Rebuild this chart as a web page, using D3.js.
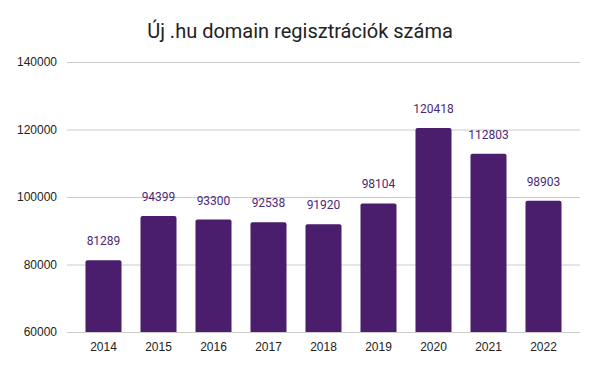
<!DOCTYPE html>
<html>
<head>
<meta charset="utf-8">
<script src="https://cdn.jsdelivr.net/npm/d3@7"></script>
<style>
  body { margin: 0; background: #fff; }
  svg { font-family: Roboto, sans-serif; }
</style>
</head>
<body>
<div id="chart"></div>
<script>
var years = ['2014', '2015', '2016', '2017', '2018', '2019', '2020', '2021', '2022'];
var registrations = [81289, 94399, 93300, 92538, 91920, 98104, 120418, 112803, 98903];
var yTicks = [60000, 80000, 100000, 120000, 140000];

var width = 600, height = 371;
var margin = { top: 62, right: 20, bottom: 39, left: 67 };

var svg = d3.select('#chart').append('svg')
    .attr('width', width)
    .attr('height', height);

var x = d3.scaleBand()
    .domain(years)
    .range([margin.left, width - margin.right])
    .paddingInner(0.345)
    .paddingOuter(0.336);

var y = d3.scaleLinear()
    .domain([60000, 140000])
    .range([height - margin.bottom, margin.top]);

// title
svg.append('text')
    .attr('x', width / 2)
    .attr('y', 38)
    .attr('text-anchor', 'middle')
    .style('font-size', '20px')
    .style('fill', '#222')
    .text('Új .hu domain regisztrációk száma');

// gridlines + y labels
var yAxis = d3.axisLeft(y)
    .tickValues(yTicks)
    .tickSize(-(width - margin.left - margin.right))
    .tickPadding(10)
    .tickFormat(d3.format('d'));

var gy = svg.append('g')
    .attr('transform', 'translate(' + margin.left + ',0)')
    .call(yAxis);
gy.select('.domain').remove();
gy.selectAll('.tick line').attr('stroke', '#ccc');
gy.selectAll('.tick text').style('font-size', '12px').style('fill', '#222');

// x labels
var xAxis = d3.axisBottom(x).tickSize(0).tickPadding(10);
var gx = svg.append('g')
    .attr('transform', 'translate(0,' + (height - margin.bottom) + ')')
    .call(xAxis);
gx.select('.domain').remove();
gx.selectAll('.tick text').style('font-size', '12px').style('fill', '#222');

// bars, small rounded top corners
var r = 2;
svg.selectAll('.bar')
    .data(registrations)
    .enter().append('path')
    .attr('class', 'bar')
    .attr('fill', '#4a1e6c')
    .attr('d', function(d, i) {
        var x0 = x(years[i]), w = x.bandwidth();
        var y0 = y(d), y1 = y(60000);
        return 'M' + x0 + ',' + y1 +
            'V' + (y0 + r) +
            'Q' + x0 + ',' + y0 + ' ' + (x0 + r) + ',' + y0 +
            'H' + (x0 + w - r) +
            'Q' + (x0 + w) + ',' + y0 + ' ' + (x0 + w) + ',' + (y0 + r) +
            'V' + y1 + 'Z';
    });

// value labels
svg.selectAll('.val')
    .data(registrations)
    .enter().append('text')
    .attr('class', 'val')
    .attr('x', function(d, i) { return x(years[i]) + x.bandwidth() / 2; })
    .attr('y', function(d) { return y(d) - 15; })
    .attr('text-anchor', 'middle')
    .style('font-size', '12px')
    .style('fill', '#4a2a78')
    .text(function(d) { return d; });
</script>
</body>
</html>
